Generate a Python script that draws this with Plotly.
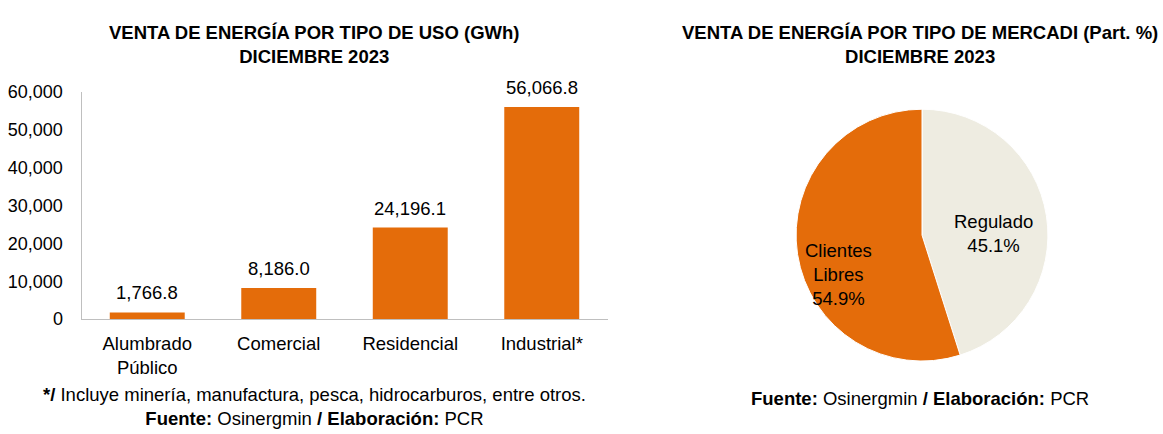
import plotly.graph_objects as go

categories = ["Alumbrado<br>Público", "Comercial", "Residencial", "Industrial*"]
values = [1766.8, 8186.0, 24196.1, 56066.8]
value_labels = ["1,766.8", "8,186.0", "24,196.1", "56,066.8"]
y_ticks = [0, 10000, 20000, 30000, 40000, 50000, 60000]
y_tick_labels = ["0", "10,000", "20,000", "30,000", "40,000", "50,000", "60,000"]

pie_labels = ["Regulado", "Clientes Libres"]
pie_values = [45.1, 54.9]
pie_texts = ["Regulado<br>45.1%", "Clientes<br>Libres<br>54.9%"]

ORANGE = "#E46C0A"
BEIGE = "#EEECE1"
FONT = "Liberation Sans, Arial, sans-serif"
W, H = 1163, 434
FS = 18.5

def px(xv):
    return xv / W

def py(yv):
    return 1 - yv / H

fig = go.Figure()
fig.add_trace(go.Bar(
    x=categories, y=values, marker_color=ORANGE, marker_line_width=0,
    xaxis="x", yaxis="y", hoverinfo="x+y"
))
fig.add_trace(go.Pie(
    labels=pie_labels, values=pie_values, sort=False, direction="clockwise",
    rotation=0, marker=dict(colors=[BEIGE, ORANGE], line=dict(color="#FFFFFF", width=1)),
    textinfo="none",
    domain=dict(x=[px(790), px(1054)], y=[py(368), py(104)]), showlegend=False
))

annotations = []
for c, v, t in zip(categories, values, value_labels):
    annotations.append(dict(x=c, y=v, xref="x", yref="y", text=t, showarrow=False,
                            yanchor="bottom", yshift=7, font=dict(size=FS, color="#000", family=FONT)))

def text_block(x, y, text, size=FS):
    return dict(x=px(x), y=py(y), xref="paper", yref="paper", showarrow=False,
                xanchor="center", yanchor="middle", align="center", text=text,
                font=dict(size=size, color="#000", family=FONT))

annotations += [
    text_block(313.5, 36, "<b>VENTA DE ENERGÍA POR TIPO DE USO (GWh)<br>DICIEMBRE 2023</b>"),
    text_block(919.5, 36, "<b>VENTA DE ENERGÍA POR TIPO DE MERCADI (Part. %)<br>DICIEMBRE 2023</b>"),
]
pie_label_pos = [(993, 234), (838, 277)]
for t, (cx, cy) in zip(pie_texts, pie_label_pos):
    annotations.append(text_block(cx, cy, t))
annotations += [
    text_block(314, 416, "<b>*/</b> Incluye minería, manufactura, pesca, hidrocarburos, entre otros.<br>"
                         "<b>Fuente:</b> Osinergmin <b>/ Elaboración:</b> PCR"),
    text_block(919.5, 407, "<b>Fuente:</b> Osinergmin <b>/ Elaboración:</b> PCR"),
]

fig.update_layout(
    width=W, height=H, margin=dict(l=0, r=0, t=0, b=0),
    paper_bgcolor="white", plot_bgcolor="white", showlegend=False,
    font=dict(family=FONT, size=FS, color="#000"),
    bargap=0.43,
    xaxis=dict(domain=[px(81.5), px(607.5)], anchor="y", showline=True, linecolor="#BFBFBF",
               linewidth=1, ticks="", tickfont=dict(size=FS, color="#000"), showgrid=False,
               ticklabelstandoff=8),
    yaxis=dict(domain=[py(324), py(86)], anchor="x", range=[0, 60000], tickvals=y_ticks,
               ticktext=y_tick_labels, showline=True, linecolor="#BFBFBF", linewidth=1,
               showgrid=False, zeroline=False, tickfont=dict(size=18, color="#000"), ticks="",
               ticklabelstandoff=14),
    annotations=annotations,
)

fig.write_html("out.html", config={"displayModeBar": False},
               post_script="document.body.style.margin='0';")
